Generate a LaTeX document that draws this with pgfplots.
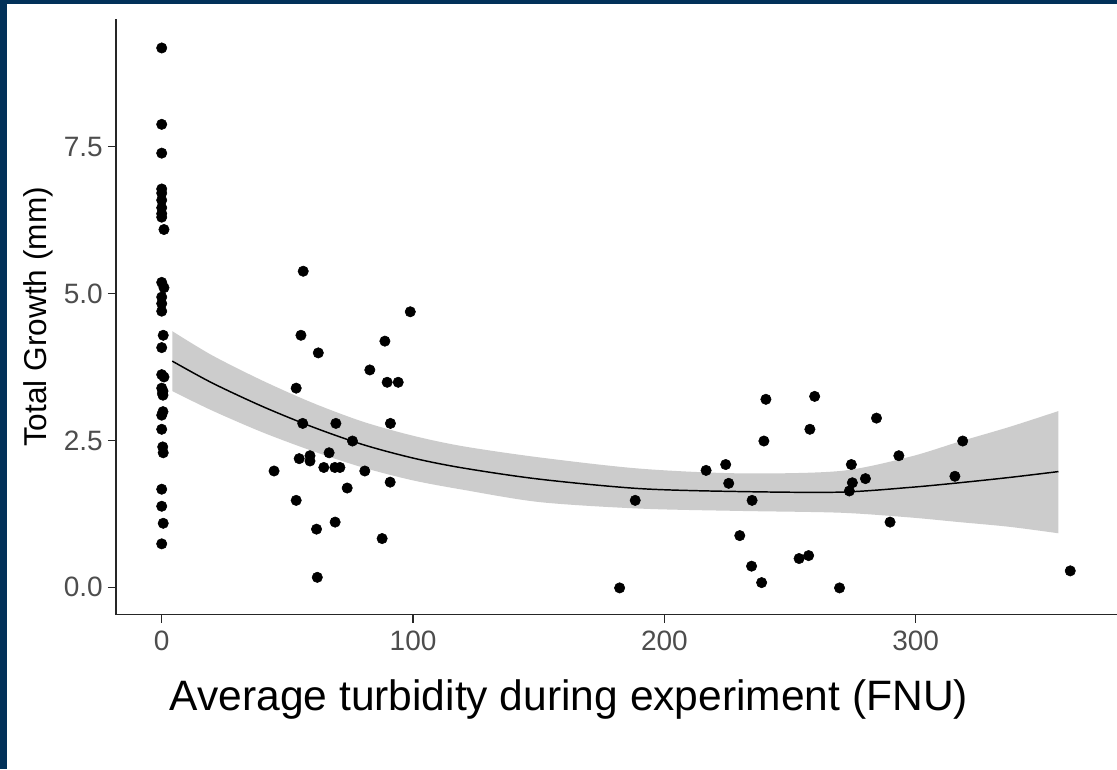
\documentclass[border=0pt]{standalone}
\usepackage{fontspec}
\setmainfont{Liberation Sans}
\usepackage{pgfplots}
\usepackage{pgfplotstable}
\pgfplotsset{compat=1.18}
\usepgfplotslibrary{fillbetween}
\definecolor{navy}{RGB}{2,49,89}
\definecolor{ribbon}{RGB}{204,204,204}
\definecolor{ticklab}{RGB}{77,77,77}

\pgfplotstableread{
x lo y hi
4.2 3.34 3.85 4.36
20 3.01 3.48 3.95
40 2.64 3.08 3.52
60 2.32 2.73 3.14
80 2.04 2.43 2.82
100 1.82 2.20 2.58
120 1.66 2.03 2.40
150.5 1.45 1.84 2.21
190.3 1.34 1.68 2.02
230.1 1.30 1.63 1.94
269.9 1.27 1.62 1.98
297.5 1.19 1.70 2.22
317.4 1.11 1.78 2.48
337.3 1.03 1.87 2.73
356.8 0.92 1.97 3.00
}\fittab

\pgfplotstableread{
x y
0 9.18
0 7.88
0 7.39
0 6.78
0 6.71
0 6.59
0 6.46
0 6.36
0 6.30
0.9 6.09
0 5.19
0.9 5.10
0 4.94
0 4.83
0 4.70
0.6 4.29
0 4.08
0 3.62
0.9 3.58
0 3.39
0.5 3.34
0.3 3.30
0.5 3.27
0.5 2.99
0 2.93
0 2.69
0.4 2.39
0.6 2.29
0 1.67
0 1.38
0.6 1.09
0 0.74
56.3 5.38
55.4 4.29
62.3 3.99
53.5 3.39
82.8 3.70
88.8 4.19
89.7 3.49
94.1 3.49
98.9 4.69
56.1 2.79
69.3 2.79
91.0 2.79
75.9 2.49
66.6 2.29
54.7 2.19
59.0 2.24
59.0 2.15
44.7 1.98
64.5 2.04
68.9 2.04
70.9 2.04
80.8 1.98
90.9 1.79
73.8 1.69
53.5 1.48
69.0 1.11
61.6 0.99
87.7 0.83
61.9 0.17
240.4 3.20
259.8 3.25
284.4 2.88
257.9 2.69
239.6 2.49
318.7 2.49
293.3 2.24
224.4 2.09
274.4 2.09
216.6 1.99
280.0 1.85
315.6 1.89
225.6 1.77
274.8 1.78
273.6 1.64
188.4 1.48
234.9 1.48
289.8 1.11
230.0 0.88
257.4 0.54
253.6 0.49
234.7 0.36
238.7 0.08
182.2 -0.01
269.7 -0.01
361.5 0.28
}\ptstab

\begin{document}
\begin{tikzpicture}
\begin{axis}[
  at={(87pt,115.725pt)}, anchor=south west,
  scale only axis, width=750.75pt, height=446.55pt,
  xmin=-18.19, xmax=380.1, ymin=-0.466, ymax=9.668,
  set layers,
  axis x line*=bottom, axis y line*=left,
  axis line style={line width=1.1pt, black!85},
  tick style={line width=1.1pt, black!85},
  tick align=outside, major tick length=6pt,
  xtick={0,100,200,300}, xticklabels={0,100,200,300},
  ytick={0,2.5,5,7.5}, yticklabels={0.0,2.5,5.0,7.5},
  ticklabel style={font=\fontsize{21}{25}\selectfont, text=ticklab, inner sep=0pt},
  xticklabel style={anchor=north, yshift=-6pt},
  yticklabel style={anchor=east, xshift=-3.75pt},
  xlabel={Average turbidity during experiment (FNU)},
  ylabel={Total Growth (mm)},
  xlabel style={font=\fontsize{31.9}{38}\selectfont, at={(axis description cs:0.4525,-0.1617)}, anchor=base, inner sep=0pt},
  ylabel style={font=\fontsize{23.7}{28}\selectfont, at={(axis description cs:-0.0692,0.5)}, anchor=base, inner sep=0pt},
  clip=false,
]
\begin{pgfonlayer}{axis background}
\fill[white] (rel axis cs:-0.11589,-0.25916) rectangle (rel axis cs:1,1.03242);
\fill[navy] (rel axis cs:-0.11589,1.02570) rectangle (rel axis cs:1,1.03242);
\fill[navy] (rel axis cs:-0.11589,-0.25916) rectangle (rel axis cs:-0.10856,1.03242);
\end{pgfonlayer}
\addplot[name path=up, draw=none, smooth] table[x=x, y=hi] {\fittab};
\addplot[name path=lo, draw=none, smooth] table[x=x, y=lo] {\fittab};
\addplot[ribbon, draw=none] fill between[of=up and lo];
\addplot[smooth, black, line width=1.1pt] table[x=x, y=y] {\fittab};
\addplot[only marks, mark=*, mark size=3.9pt, black] table[x=x, y=y] {\ptstab};
\end{axis}
\pgfresetboundingbox
\useasboundingbox (0,0) rectangle (837.75pt,576.75pt);
\end{tikzpicture}
\end{document}
